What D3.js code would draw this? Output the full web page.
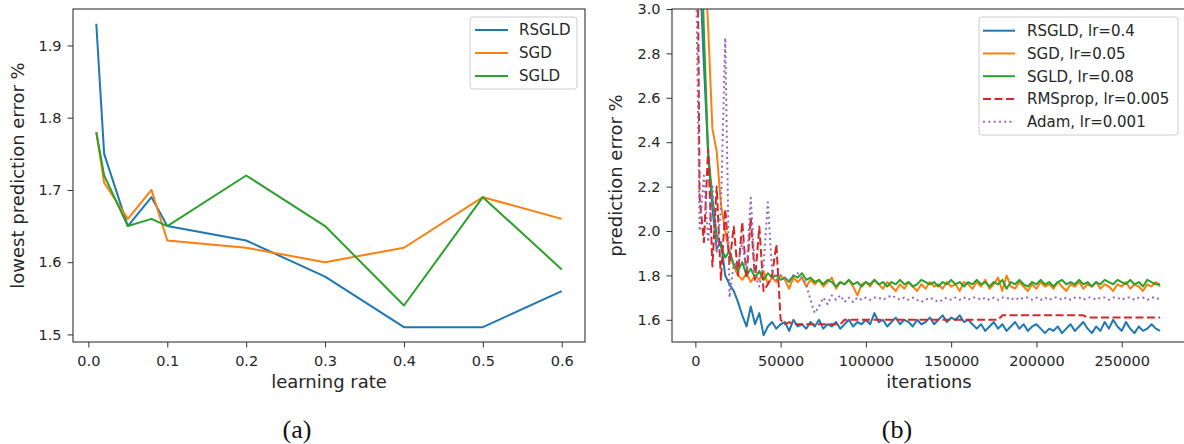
<!DOCTYPE html>
<html>
<head>
<meta charset="utf-8">
<script src="https://d3js.org/d3.v7.min.js"></script>
<style>
body { margin: 0; background: #fff; }
svg { display: block; font-family: "DejaVu Sans", sans-serif; }
</style>
</head>
<body>
<div id="chart-area"></div>
<script>
/*
 * (a) lowest prediction error vs learning rate
 */
var learningRates = [0.01, 0.02, 0.05, 0.08, 0.1, 0.2, 0.3, 0.4, 0.5, 0.6];
var rsgldByLr = [1.93, 1.75, 1.65, 1.69, 1.65, 1.63, 1.58, 1.51, 1.51, 1.56];
var sgdByLr   = [1.78, 1.71, 1.66, 1.70, 1.63, 1.62, 1.60, 1.62, 1.69, 1.66];
var sgldByLr  = [1.78, 1.72, 1.65, 1.66, 1.65, 1.72, 1.65, 1.54, 1.69, 1.59];
var namesA = ["RSGLD", "SGD", "SGLD"];
var lrTicks = [0.0, 0.1, 0.2, 0.3, 0.4, 0.5, 0.6];
var lowestTicks = [1.5, 1.6, 1.7, 1.8, 1.9];

/*
 * (b) prediction error during training, one point every 2500 iterations
 */
var iterations = d3.range(0, 275000, 2500); // 110 points
var rsgldCurve = [
    4.20, 3.20, 2.75, 2.35, 2.10, 1.92, 1.95, 1.80, 1.76, 1.73,
    1.68, 1.62, 1.57, 1.66, 1.58, 1.63, 1.53, 1.57, 1.59, 1.56,
    1.58, 1.59, 1.55, 1.60, 1.57, 1.58, 1.56, 1.59, 1.57, 1.60,
    1.56, 1.58, 1.57, 1.59, 1.56, 1.58, 1.60, 1.57, 1.59, 1.58,
    1.60, 1.58, 1.63, 1.59, 1.60, 1.57, 1.59, 1.61, 1.58, 1.60,
    1.59, 1.57, 1.60, 1.58, 1.59, 1.61, 1.58, 1.60, 1.62, 1.59,
    1.61, 1.60, 1.62, 1.59, 1.60, 1.58, 1.56, 1.58, 1.55, 1.57,
    1.59, 1.56, 1.58, 1.55, 1.57, 1.59, 1.56, 1.58, 1.55, 1.57,
    1.58, 1.56, 1.54, 1.56, 1.55, 1.57, 1.54, 1.56, 1.58, 1.55,
    1.57, 1.59, 1.56, 1.54, 1.57, 1.55, 1.59, 1.56, 1.60, 1.57,
    1.55, 1.59, 1.56, 1.54, 1.57, 1.55, 1.56, 1.58, 1.56, 1.55];
var sgdCurve = [
    6.00, 4.50, 3.30, 2.92, 2.46, 2.36, 2.12, 2.00, 1.90, 1.84,
    1.80, 1.78, 1.81, 1.77, 1.80, 1.78, 1.82, 1.76, 1.79, 1.77,
    1.80, 1.78, 1.74, 1.79, 1.77, 1.79, 1.75, 1.78, 1.76, 1.78,
    1.75, 1.77, 1.79, 1.74, 1.77, 1.76, 1.78, 1.75, 1.71, 1.76,
    1.77, 1.75, 1.78, 1.76, 1.74, 1.77, 1.75, 1.73, 1.76, 1.74,
    1.77, 1.75, 1.73, 1.76, 1.74, 1.77, 1.75, 1.76, 1.74, 1.77,
    1.75, 1.76, 1.73, 1.77, 1.76, 1.74, 1.77, 1.75, 1.78, 1.74,
    1.76, 1.79, 1.73, 1.80, 1.75, 1.74, 1.77, 1.75, 1.73, 1.76,
    1.74, 1.77, 1.75, 1.76, 1.74, 1.77, 1.75, 1.73, 1.76, 1.75,
    1.77, 1.74, 1.76, 1.75, 1.77, 1.74, 1.76, 1.75, 1.73, 1.76,
    1.75, 1.77, 1.74, 1.76, 1.75, 1.73, 1.76, 1.75, 1.77, 1.75];
var sgldCurve = [
    4.80, 3.60, 2.90, 2.35, 2.15, 1.98, 1.93, 1.88, 1.91, 1.85,
    1.82, 1.86, 1.80, 1.83, 1.79, 1.82, 1.78, 1.81, 1.79, 1.80,
    1.78, 1.79, 1.77, 1.80, 1.79, 1.81, 1.78, 1.79, 1.77, 1.78,
    1.76, 1.78, 1.77, 1.75, 1.77, 1.76, 1.78, 1.76, 1.77, 1.75,
    1.77, 1.76, 1.78, 1.76, 1.77, 1.75, 1.77, 1.76, 1.78, 1.76,
    1.77, 1.75, 1.76, 1.78, 1.77, 1.76, 1.77, 1.75, 1.77, 1.76,
    1.78, 1.76, 1.77, 1.75, 1.77, 1.76, 1.78, 1.76, 1.77, 1.75,
    1.77, 1.76, 1.78, 1.74, 1.77, 1.76, 1.78, 1.76, 1.75, 1.77,
    1.76, 1.78, 1.76, 1.77, 1.75, 1.77, 1.78, 1.76, 1.77, 1.76,
    1.78, 1.76, 1.77, 1.75, 1.77, 1.76, 1.78, 1.77, 1.76, 1.78,
    1.77, 1.76, 1.78, 1.76, 1.77, 1.75, 1.78, 1.77, 1.76, 1.76];
var rmspropCurve = [
    4.50, 2.15, 1.95, 2.37, 1.84, 2.20, 1.78, 2.10, 1.85, 2.02,
    1.80, 2.04, 1.79, 2.06, 1.78, 2.02, 1.73, 1.76, 1.80, 1.94,
    1.60, 1.58, 1.59, 1.58, 1.58, 1.58, 1.58, 1.58, 1.58, 1.58,
    1.58, 1.58, 1.58, 1.58, 1.58, 1.60, 1.60, 1.60, 1.60, 1.60,
    1.60, 1.60, 1.60, 1.60, 1.60, 1.60, 1.60, 1.60, 1.60, 1.60,
    1.60, 1.60, 1.60, 1.60, 1.60, 1.60, 1.60, 1.60, 1.60, 1.60,
    1.60, 1.60, 1.60, 1.60, 1.60, 1.60, 1.60, 1.60, 1.60, 1.60,
    1.60, 1.60, 1.62, 1.62, 1.62, 1.62, 1.62, 1.62, 1.62, 1.62,
    1.62, 1.62, 1.62, 1.62, 1.62, 1.62, 1.62, 1.62, 1.62, 1.62,
    1.62, 1.62, 1.61, 1.61, 1.61, 1.61, 1.61, 1.61, 1.61, 1.61,
    1.61, 1.61, 1.61, 1.61, 1.61, 1.61, 1.61, 1.61, 1.61, 1.61];
var adamCurve = [
    3.40, 2.00, 2.25, 1.95, 2.20, 1.90, 2.10, 2.87, 1.70, 1.85,
    1.85, 1.95, 1.82, 2.15, 1.80, 1.75, 1.85, 2.13, 1.82, 1.78,
    1.80, 1.79, 1.78, 1.80, 1.81, 1.79, 1.76, 1.69, 1.63, 1.66,
    1.70, 1.67, 1.71, 1.69, 1.71, 1.68, 1.70, 1.68, 1.70, 1.69,
    1.70, 1.69, 1.70, 1.70, 1.69, 1.70, 1.71, 1.70, 1.69, 1.70,
    1.69, 1.70, 1.69, 1.68, 1.69, 1.70, 1.69, 1.68, 1.69, 1.70,
    1.69, 1.70, 1.69, 1.70, 1.69, 1.70, 1.70, 1.69, 1.70, 1.69,
    1.70, 1.69, 1.70, 1.70, 1.69, 1.70, 1.69, 1.70, 1.70, 1.69,
    1.70, 1.69, 1.70, 1.69, 1.70, 1.70, 1.69, 1.70, 1.69, 1.70,
    1.70, 1.69, 1.70, 1.70, 1.69, 1.70, 1.70, 1.69, 1.70, 1.70,
    1.69, 1.70, 1.70, 1.69, 1.70, 1.70, 1.69, 1.70, 1.70, 1.69];
var namesB = ["RSGLD, lr=0.4", "SGD, lr=0.05", "SGLD, lr=0.08", "RMSprop, lr=0.005", "Adam, lr=0.001"];
var iterTicks = [0, 50000, 100000, 150000, 200000, 250000];
var errorTicks = [1.6, 1.8, 2.0, 2.2, 2.4, 2.6, 2.8, 3.0];

var colors = ["#1f77b4", "#ff7f0e", "#2ca02c", "#d62728", "#9467bd"];
var dashes = [null, null, null, "8,3.5", "2,3.3"];
var textColor = "#262626";

var svg = d3.select("#chart-area")
    .append("svg")
    .attr("width", 1184)
    .attr("height", 444);

// clip paths for both plot areas
var defs = svg.append("defs");
defs.append("clipPath").attr("id", "clipA")
    .append("rect").attr("x", 73).attr("y", 9).attr("width", 512).attr("height", 333);
defs.append("clipPath").attr("id", "clipB")
    .append("rect").attr("x", 672).attr("y", 9).attr("width", 514).attr("height", 333);

/// scales
var xA = d3.scaleLinear().domain([-0.0195, 0.6295]).range([73, 585]);
var yA = d3.scaleLinear().domain([1.4895, 1.9505]).range([342, 9]);
var xB = d3.scaleLinear().domain([-13700, 287700]).range([672, 1186]);
var yB = d3.scaleLinear().domain([1.5, 3.0]).range([342, 9]);

function styleAxis(sel) {
    sel.attr("font-family", "DejaVu Sans, sans-serif")
        .attr("font-size", "14.5px");
    sel.select(".domain").remove();
    sel.selectAll(".tick line").attr("stroke", "#333").attr("stroke-width", 1);
    sel.selectAll(".tick text").attr("fill", textColor);
}

function drawFrame(x0, x1) {
    svg.append("rect")
        .attr("x", x0).attr("y", 9)
        .attr("width", x1 - x0).attr("height", 333)
        .attr("fill", "none")
        .attr("stroke", "#333")
        .attr("stroke-width", 1.1);
}

function drawLegend(names, x, y, w, h, lineX0, lineX1, textX, rowY, gap) {
    var lg = svg.append("g");
    lg.append("rect")
        .attr("x", x).attr("y", y)
        .attr("width", w).attr("height", h)
        .attr("rx", 3)
        .attr("fill", "#fff")
        .attr("fill-opacity", 0.8)
        .attr("stroke", "#cccccc")
        .attr("stroke-width", 1);
    names.forEach(function (name, i) {
        var cy = rowY + i * gap;
        lg.append("line")
            .attr("x1", lineX0).attr("x2", lineX1)
            .attr("y1", cy).attr("y2", cy)
            .attr("stroke", colors[i])
            .attr("stroke-width", 2)
            .attr("stroke-dasharray", dashes[i]);
        lg.append("text")
            .attr("x", textX).attr("y", cy)
            .attr("dy", "0.36em")
            .attr("font-size", "15px")
            .attr("fill", textColor)
            .text(name);
    });
}

/*
 * panel (a)
 */
var lineA = d3.line()
    .x(function (d, i) { return xA(learningRates[i]); })
    .y(function (d) { return yA(d); });

var gA = svg.append("g").attr("clip-path", "url(#clipA)");
[rsgldByLr, sgdByLr, sgldByLr].forEach(function (series, i) {
    gA.append("path")
        .attr("d", lineA(series))
        .attr("fill", "none")
        .attr("stroke", colors[i])
        .attr("stroke-width", 2)
        .attr("stroke-linejoin", "round");
});

svg.append("g")
    .attr("transform", "translate(0,342)")
    .call(d3.axisBottom(xA).tickValues(lrTicks).tickFormat(d3.format(".1f"))
        .tickSize(5.5).tickPadding(8).tickSizeOuter(0))
    .call(styleAxis);
svg.append("g")
    .attr("transform", "translate(73,0)")
    .call(d3.axisLeft(yA).tickValues(lowestTicks).tickFormat(d3.format(".1f"))
        .tickSize(5.5).tickPadding(6).tickSizeOuter(0))
    .call(styleAxis);
drawFrame(73, 585);

svg.append("text")
    .attr("x", 329).attr("y", 388)
    .attr("text-anchor", "middle")
    .attr("font-size", "18px")
    .attr("fill", textColor)
    .text("learning rate");
svg.append("text")
    .attr("transform", "translate(24,175.5) rotate(-90)")
    .attr("text-anchor", "middle")
    .attr("font-size", "18px")
    .attr("fill", textColor)
    .text("lowest prediction error %");

drawLegend(namesA, 470, 17, 107, 72, 475, 508, 519, 30, 23);

/*
 * panel (b)
 */
var lineB = d3.line()
    .x(function (d, i) { return xB(iterations[i]); })
    .y(function (d) { return yB(d); });

var gB = svg.append("g").attr("clip-path", "url(#clipB)");
[rsgldCurve, sgdCurve, sgldCurve, rmspropCurve, adamCurve].forEach(function (series, i) {
    gB.append("path")
        .attr("d", lineB(series))
        .attr("fill", "none")
        .attr("stroke", colors[i])
        .attr("stroke-width", 2)
        .attr("stroke-linejoin", "round")
        .attr("stroke-dasharray", dashes[i]);
});

svg.append("g")
    .attr("transform", "translate(0,342)")
    .call(d3.axisBottom(xB).tickValues(iterTicks).tickFormat(d3.format("d"))
        .tickSize(5.5).tickPadding(8).tickSizeOuter(0))
    .call(styleAxis);
svg.append("g")
    .attr("transform", "translate(672,0)")
    .call(d3.axisLeft(yB).tickValues(errorTicks).tickFormat(d3.format(".1f"))
        .tickSize(5.5).tickPadding(6).tickSizeOuter(0))
    .call(styleAxis);
drawFrame(672, 1186);

svg.append("text")
    .attr("x", 929).attr("y", 388)
    .attr("text-anchor", "middle")
    .attr("font-size", "18px")
    .attr("fill", textColor)
    .text("iterations");
svg.append("text")
    .attr("transform", "translate(622,175.5) rotate(-90)")
    .attr("text-anchor", "middle")
    .attr("font-size", "18px")
    .attr("fill", textColor)
    .text("prediction error %");

drawLegend(namesB, 979, 17, 199, 118, 983, 1015, 1027, 30.7, 22.75);

/// captions
svg.append("text")
    .attr("x", 297).attr("y", 438)
    .attr("text-anchor", "middle")
    .attr("font-family", "Liberation Serif, serif")
    .attr("font-size", "26px")
    .attr("fill", "#111")
    .text("(a)");
svg.append("text")
    .attr("x", 897).attr("y", 438)
    .attr("text-anchor", "middle")
    .attr("font-family", "Liberation Serif, serif")
    .attr("font-size", "26px")
    .attr("fill", "#111")
    .text("(b)");
</script>
</body>
</html>
